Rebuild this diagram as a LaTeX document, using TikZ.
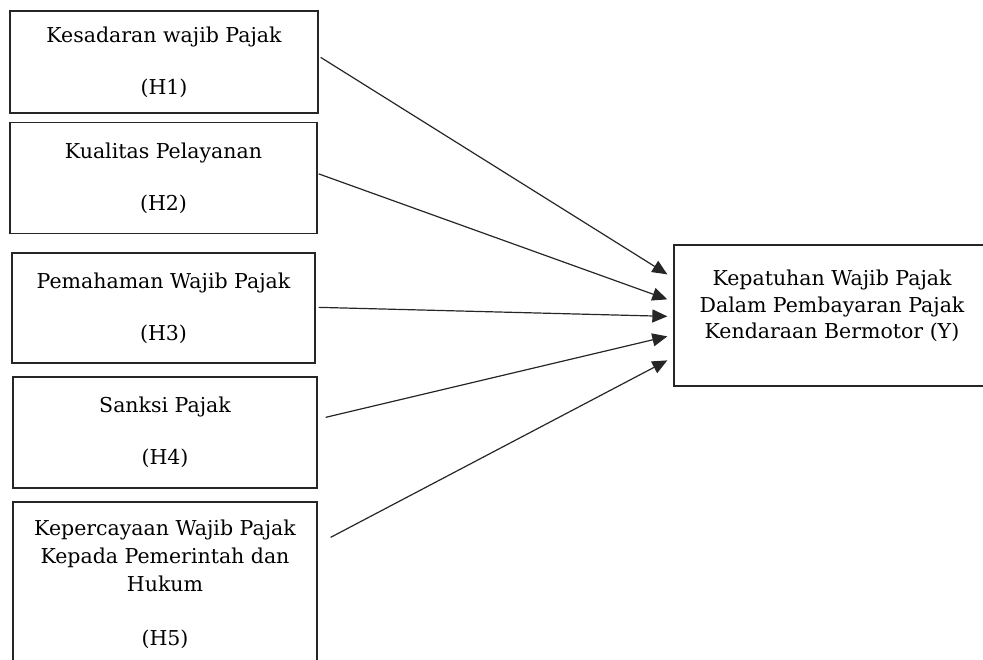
\documentclass[tikz,border=0pt]{standalone}
\usepackage{fontspec}
\setmainfont{DejaVu Serif}
\usetikzlibrary{arrows.meta}
\begin{document}
\begin{tikzpicture}[x=1pt,y=-1pt,
  box/.style={draw=black!85,line width=1.3pt,rectangle,inner sep=0pt,align=center,
    font=\fontsize{20.5}{28}\selectfont},
  arr/.style={draw=black!85,line width=1.2pt,-{Triangle[length=15pt,width=13pt]}}]
\useasboundingbox (0,0) rectangle (983,659);
\clip (0,0) rectangle (983,659);
\node[box,minimum width=308pt,minimum height=102pt] (h1) at (164,62) {Kesadaran wajib Pajak\\[24pt](H1)};
\node[box,minimum width=307pt,minimum height=111pt] (h2) at (163.5,178) {Kualitas Pelayanan\\[24pt](H2)};
\node[box,minimum width=303pt,minimum height=110pt] (h3) at (163.5,308) {Pemahaman Wajib Pajak\\[24pt](H3)};
\node[box,minimum width=304pt,minimum height=111pt] (h4) at (165,432.5) {Sanksi Pajak\\[24pt](H4)};
\node[box,minimum width=304pt,minimum height=164pt] (h5) at (165,584) {Kepercayaan Wajib Pajak\\Kepada Pemerintah dan\\Hukum\\[26pt](H5)};
\node[box,minimum width=316pt,minimum height=141pt,text depth=22pt,
  font=\fontsize{20.5}{26.5}\selectfont] (y) at (832,315.5) {Kepatuhan Wajib Pajak\\Dalam Pembayaran Pajak\\Kendaraan Bermotor (Y)};
\draw[arr] ([shift={(2,47)}]h1.north east) -- ([shift={(-6,30)}]y.north west);
\draw[arr] ([shift={(1,52)}]h2.north east) -- ([shift={(-6,55)}]y.north west);
\draw[arr] ([shift={(3,55)}]h3.north east) -- ([shift={(-6,72)}]y.north west);
\draw[arr] ([shift={(8,41)}]h4.north east) -- ([shift={(-6,92)}]y.north west);
\draw[arr] ([shift={(13,36)}]h5.north east) -- ([shift={(-6,116)}]y.north west);
\end{tikzpicture}
\end{document}
